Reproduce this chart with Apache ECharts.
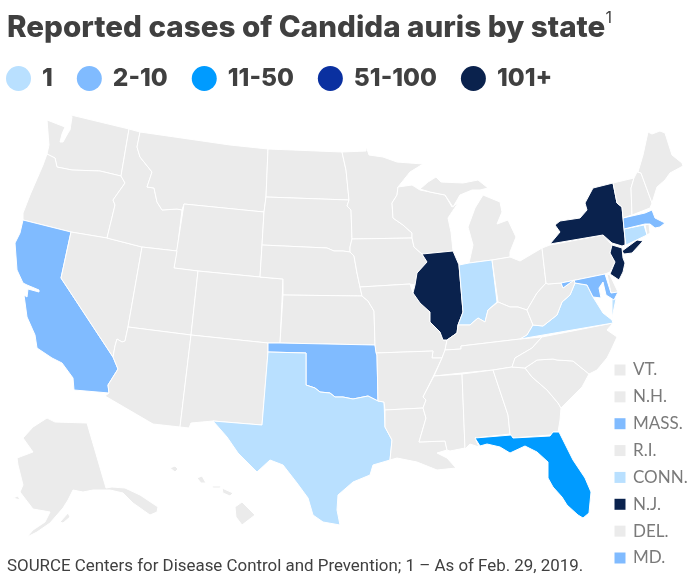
<!DOCTYPE html>
<html>
<head>
	<meta charset="utf-8" />
	<title>Reported cases of Candida auris by state</title>
	<script src="https://cdn.jsdelivr.net/npm/echarts@6/dist/echarts.min.js"></script>
	<style>
		html, body { margin: 0; padding: 0; background: #fff; }
	</style>
</head>
<body>
	<div id="main" style="width: 700px;height: 586px;"></div>

	<script type="text/javascript">
		// values are estimates: the picture only shows which band each state is in
		var bandLabels = ['1', '2-10', '11-50', '51-100', '101+'];
		var bandMin = [1, 2, 11, 51, 101];
		var bandMax = [1, 10, 50, 100, 100000];
		var bandColors = ['#b9e0ff', '#80bbff', '#009bff', '#0a30a0', '#0a224d'];

		var stateNames = ['Washington','Oregon','California','Nevada','Idaho','Montana','Wyoming','Utah','Arizona','Colorado','New Mexico','North Dakota','South Dakota','Nebraska','Kansas','Oklahoma','Texas','Minnesota','Iowa','Missouri','Arkansas','Louisiana','Wisconsin','Illinois','Michigan','Indiana','Ohio','Kentucky','Tennessee','Mississippi','Alabama','Georgia','Florida','South Carolina','North Carolina','Virginia','West Virginia','Pennsylvania','New York','New Jersey','Delaware','Maryland','Connecticut','Rhode Island','Massachusetts','Vermont','New Hampshire','Maine','Alaska','Hawaii'];
		var stateCases = [0,0,5,0,0,0,0,0,0,0,0,0,0,0,0,5,1,0,0,0,0,0,0,150,0,1,0,0,0,0,0,0,30,0,0,1,0,0,300,150,0,5,1,0,5,0,0,0,0,0];

		var smallStates = ['VT.', 'N.H.', 'MASS.', 'R.I.', 'CONN.', 'N.J.', 'DEL.', 'MD.'];
		var smallCases = [0, 0, 5, 0, 1, 150, 0, 5];

		// basemap outlines (no map file is available offline)
		var outlines = {
			'Washington': [[[71,115],[129,129],[121,176],[100,171],[72,170],[57,167],[55,158],[47,154],[49,145],[47,120],[65,127],[62,134],[60,142],[63,142],[68,133],[70,130],[72,117]]],
			'Oregon': [[[47,154],[55,158],[57,167],[72,170],[100,171],[121,176],[125,183],[113,200],[115,205],[107,238],[71,232],[23,220],[23,213],[30,195],[43,165]]],
			'California': [[[23,220],[71,232],[61,278],[113,357],[118,369],[108,385],[109,393],[74,390],[73,378],[62,363],[52,358],[37,348],[35,335],[27,317],[24,295],[27,297],[28,289],[39,292],[39,290],[27,285],[23,283],[17,270],[15,243],[20,233]]],
			'Nevada': [[[71,232],[107,238],[142,247],[128,327],[125,341],[122,342],[117,339],[115,346],[113,357],[61,278]]],
			'Idaho': [[[129,129],[140,132],[137,147],[140,157],[152,172],[147,187],[154,188],[157,202],[162,210],[177,209],[182,210],[177,251],[142,247],[107,238],[115,205],[113,200],[125,183],[121,176]]],
			'Montana': [[[140,132],[230,145],[268,149],[266,197],[264,212],[184,204],[182,210],[177,209],[162,210],[157,202],[154,188],[147,187],[152,172],[140,157],[137,147]]],
			'Wyoming': [[[184,204],[264,212],[262,245],[260,277],[198,271],[174,268]]],
			'Utah': [[[142,247],[177,251],[174,268],[198,271],[191,335],[128,327]]],
			'Arizona': [[[128,327],[191,335],[180,427],[153,424],[105,396],[109,393],[108,385],[118,369],[113,357],[115,346],[117,339],[122,342],[125,341]]],
			'Colorado': [[[198,271],[260,277],[283,279],[280,343],[268,343],[191,335]]],
			'New Mexico': [[[191,335],[268,343],[268,352],[262,425],[213,421],[191,423],[189,428],[180,427]]],
			'North Dakota': [[[268,149],[342,152],[346,170],[349,200],[266,197]]],
			'South Dakota': [[[266,197],[349,200],[347,206],[351,210],[352,239],[350,247],[350,252],[343,251],[334,251],[327,248],[262,245],[264,212]]],
			'Nebraska': [[[262,245],[327,248],[334,251],[343,251],[350,252],[354,256],[357,273],[360,287],[362,296],[283,295],[283,279],[260,277]]],
			'Kansas': [[[283,295],[362,296],[368,301],[374,311],[375,345],[280,343]]],
			'Oklahoma': [[[268,343],[280,343],[375,345],[377,355],[378,401],[368,396],[353,399],[343,397],[335,397],[330,393],[320,392],[315,388],[306,385],[306,353],[268,352]]],
			'Texas': [[[268,352],[306,353],[306,385],[315,388],[320,392],[330,393],[335,397],[343,397],[353,399],[368,396],[378,401],[384,402],[385,427],[392,440],[390,460],[373,465],[370,475],[353,482],[338,495],[337,510],[340,525],[323,522],[313,515],[308,498],[297,483],[283,465],[270,460],[257,472],[238,453],[227,437],[213,421],[262,425]]],
			'Minnesota': [[[342,152],[366,151],[366,146],[369,155],[383,157],[397,162],[423,164],[410,172],[398,187],[397,195],[392,203],[393,218],[403,225],[412,233],[412,238],[352,239],[351,210],[347,206],[349,200],[346,170]]],
			'Iowa': [[[352,239],[412,238],[414,247],[422,254],[427,262],[417,273],[415,285],[410,284],[360,287],[357,273],[354,256],[350,252],[350,247]]],
			'Missouri': [[[360,287],[410,284],[413,293],[420,303],[430,312],[430,322],[440,332],[443,340],[447,340],[445,350],[442,358],[432,358],[433,351],[376,353],[375,345],[374,311],[368,301],[362,296]]],
			'Arkansas': [[[376,353],[433,351],[432,358],[442,358],[433,377],[423,397],[426,400],[423,408],[385,410],[384,402],[378,401],[377,355]]],
			'Louisiana': [[[385,410],[423,408],[426,418],[419,442],[445,441],[447,450],[437,453],[447,458],[456,468],[437,470],[417,462],[397,458],[390,460],[392,440],[385,427]]],
			'Wisconsin': [[[398,187],[412,185],[420,190],[430,192],[445,195],[452,207],[458,203],[448,218],[451,232],[453,251],[422,254],[414,247],[412,238],[412,233],[403,225],[393,218],[392,203],[397,195]]],
			'Illinois': [[[422,254],[453,251],[459,265],[463,312],[458,325],[457,333],[447,340],[443,340],[440,332],[430,322],[430,312],[420,303],[413,293],[415,285],[417,273],[427,262]]],
			'Michigan': [[[[420,189],[428,182],[436,177],[441,182],[463,183],[478,180],[488,188],[480,190],[472,190],[460,195],[453,207],[445,195],[430,192]]], [[[483,195],[500,202],[502,212],[497,224],[508,220],[516,237],[510,252],[510,257],[492,260],[469,263],[473,245],[468,227],[475,208]]]],
			'Indiana': [[[459,265],[469,263],[492,260],[497,302],[488,310],[485,322],[478,318],[470,325],[458,325],[463,312]]],
			'Ohio': [[[492,260],[510,257],[520,261],[542,248],[546,283],[537,293],[527,310],[518,307],[510,307],[498,302]]],
			'Kentucky': [[[447,340],[457,333],[458,325],[470,325],[478,318],[485,322],[488,310],[498,302],[510,307],[518,307],[527,310],[533,325],[527,335],[520,339],[461,346],[461,349],[445,350]]],
			'Tennessee': [[[445,350],[461,349],[461,346],[520,339],[542,337],[532,348],[515,358],[512,367],[493,370],[462,373],[434,376],[442,358]]],
			'Mississippi': [[[434,376],[462,374],[465,448],[450,451],[447,450],[445,441],[419,442],[426,418],[423,408],[426,400],[423,397]]],
			'Alabama': [[[462,374],[493,370],[508,415],[510,434],[475,438],[479,447],[470,444],[465,449]]],
			'Georgia': [[[493,370],[512,367],[525,368],[532,377],[547,390],[558,403],[561,408],[560,420],[558,432],[553,432],[550,435],[512,438],[510,434],[508,415]]],
			'Florida': [[[475,438],[511,435],[513,438],[550,436],[553,432],[559,432],[573,460],[585,478],[591,492],[589,513],[583,518],[578,515],[567,505],[562,497],[553,487],[548,478],[548,462],[537,452],[525,446],[510,453],[500,447],[487,444],[480,446]]],
			'South Carolina': [[[525,368],[537,360],[553,359],[557,360],[573,361],[589,374],[582,387],[567,402],[561,408],[558,403],[547,390],[532,377]]],
			'North Carolina': [[[542,337],[613,323],[607,330],[617,337],[612,348],[607,358],[597,370],[589,374],[573,361],[557,360],[553,359],[537,360],[525,368],[512,367],[515,358],[532,348]]],
			'Virginia': [[[[520,339],[527,335],[533,325],[543,326],[557,315],[562,302],[570,295],[575,283],[587,285],[593,297],[603,313],[612,320],[613,323]]], [[[612,298],[616,299],[612,318]]]],
			'West Virginia': [[[527,310],[537,293],[546,283],[548,284],[561,283],[563,288],[574,280],[575,283],[570,295],[562,302],[557,315],[543,326],[533,325]]],
			'Pennsylvania': [[[542,248],[550,245],[603,235],[612,245],[610,253],[615,262],[610,272],[605,274],[561,283],[548,284],[546,283]]],
			'New York': [[[[550,244],[560,232],[555,225],[560,221],[580,218],[587,210],[585,203],[593,188],[613,183],[617,203],[622,207],[625,238],[625,245],[622,246],[612,243],[603,235]]], [[[622,251],[637,240],[643,241],[632,253],[624,254]]]],
			'New Jersey': [[[612,245],[622,248],[623,258],[625,263],[623,272],[619,280],[610,274],[615,262],[610,253]]],
			'Delaware': [[[607,274],[610,275],[617,290],[618,292],[611,293]]],
			'Maryland': [[[561,283],[605,274],[611,293],[618,292],[614,300],[606,295],[603,282],[599,288],[601,298],[593,297],[587,285],[575,283],[574,280],[563,288]]],
			'Connecticut': [[[624,229],[644,225],[647,235],[626,245],[625,238]]],
			'Rhode Island': [[[645,225],[649,224],[650,233],[647,235]]],
			'Massachusetts': [[[623,218],[645,213],[652,210],[655,218],[665,223],[660,227],[655,228],[650,224],[645,224],[624,229]]],
			'Vermont': [[[613,183],[634,178],[631,188],[632,215],[623,218],[622,207],[617,203]]],
			'New Hampshire': [[[634,178],[637,172],[641,173],[652,203],[650,208],[632,215],[631,188]]],
			'Maine': [[[638,172],[643,155],[648,132],[652,134],[660,131],[665,133],[672,155],[682,163],[683,166],[670,173],[665,180],[657,187],[652,203],[641,173]]],
			'Alaska': [[[[47,418],[55,422],[87,423],[106,488],[112,487],[125,488],[140,495],[158,507],[157,512],[150,515],[133,503],[123,493],[110,490],[93,490],[83,492],[73,490],[68,500],[63,508],[50,523],[37,532],[27,537],[33,530],[45,522],[50,512],[33,509],[20,492],[23,485],[18,465],[17,458],[33,452],[23,438],[33,427]]], [[[60,522],[68,513],[70,517],[63,523]]], [[[13,498],[18,496],[20,500]]]],
			'Hawaii': [[[[235,507],[242,502],[255,515],[242,525],[236,517]]], [[[222,488],[233,493],[230,496],[223,493]]], [[[197,478],[202,476],[206,483],[201,483]]], [[[170,468],[175,466],[178,469],[175,472]]], [[[212,486],[221,486],[220,488],[213,488]]]]
		};
		var multiParts = ['Michigan', 'Virginia', 'New York', 'Alaska', 'Hawaii'];

		var features = stateNames.map(function(name){
			return {
				type: 'Feature',
				properties: { name: name },
				geometry: {
					type: multiParts.indexOf(name) >= 0 ? 'MultiPolygon' : 'Polygon',
					coordinates: outlines[name]
				}
			};
		});
		echarts.registerMap('usa', { type: 'FeatureCollection', features: features });

		var pieces = bandLabels.map(function(label, i){
			return { min: bandMin[i], max: bandMax[i], label: label, color: bandColors[i] };
		});

		var myChart = echarts.init(document.getElementById('main'));

		var option = {
			animation: false,
			title: [{
				left: 2,
				top: 5,
				text: '{t|Reported cases of Candida auris by state}{s|1}',
				textStyle: {
					rich: {
						t: { fontFamily: 'Inter', fontWeight: 800, fontSize: 29.6, color: '#404040', lineHeight: 36 },
						s: { fontFamily: 'Inter', fontWeight: 400, fontSize: 16, color: '#404040', verticalAlign: 'top', lineHeight: 36, padding: [0, 0, 10, 0] }
					}
				}
			}, {
				left: 2,
				top: 553,
				text: 'SOURCE Centers for Disease Control and Prevention; 1 – As of Feb. 29, 2019.',
				textStyle: { fontFamily: 'Roboto', fontWeight: 400, fontSize: 16.9, color: '#404040' }
			}],
			visualMap: {
				type: 'piecewise',
				orient: 'horizontal',
				left: -9,
				top: 51,
				itemWidth: 25,
				itemHeight: 25,
				itemSymbol: 'circle',
				itemGap: 24,
				textGap: 11,
				selectedMode: false,
				hoverLink: false,
				pieces: pieces,
				outOfRange: { color: '#ebebeb' },
				seriesIndex: [0, 1],
				textStyle: { fontFamily: 'Inter', fontWeight: 800, fontSize: 24.5, color: '#404040' }
			},
			geo: {
				map: 'usa',
				projection: {
					project: function(p){ return p; },
					unproject: function(p){ return p; }
				},
				roam: false,
				silent: true,
				left: 0,
				top: 0,
				width: 700,
				height: 586,
				boundingCoords: [[0, 0], [700, 586]],
				label: { show: false },
				itemStyle: { areaColor: '#ebebeb', borderColor: '#ffffff', borderWidth: 1 }
			},
			grid: { left: 620, top: 370, width: 1, height: 188 },
			xAxis: { type: 'value', min: 0, max: 1, show: false },
			yAxis: {
				type: 'category',
				position: 'right',
				inverse: true,
				boundaryGap: false,
				data: smallStates,
				axisLine: { show: false },
				axisTick: { show: false },
				axisLabel: { margin: 12, fontFamily: 'Lato', fontSize: 17, color: '#7a7a7a' }
			},
			series: [{
				type: 'map',
				geoIndex: 0,
				data: stateNames.map(function(name, i){ return { name: name, value: stateCases[i] }; })
			}, {
				type: 'scatter',
				symbol: 'rect',
				symbolSize: 11,
				silent: true,
				itemStyle: { opacity: 1 },
				data: smallStates.map(function(name, i){ return [0, name, smallCases[i]]; }),
				encode: { x: 0, y: 1 }
			}]
		};

		myChart.setOption(option);
	</script>
</body>
</html>
